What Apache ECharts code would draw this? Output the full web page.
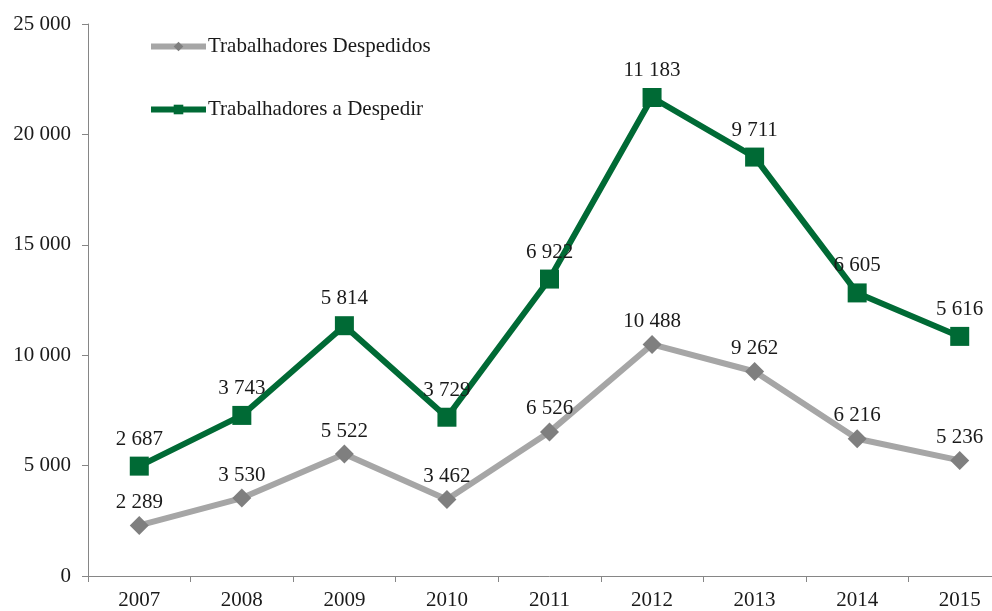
<!DOCTYPE html>
<html>
<head>
<meta charset="utf-8">
<script src="https://cdn.jsdelivr.net/npm/echarts@6/dist/echarts.min.js"></script>
<style>html,body{margin:0;padding:0;background:#fff;overflow:hidden;width:992px;height:611px;}#c{width:1011px;height:611px;}</style>
</head>
<body>
<div id="c"></div>
<script>
var years = ['2007','2008','2009','2010','2011','2012','2013','2014','2015'];
var despedidos = [2289, 3530, 5522, 3462, 6526, 10488, 9262, 6216, 5236];
var aDespedir = [2687, 3743, 5814, 3729, 6922, 11183, 9711, 6605, 5616];
var seriesNames = ['Trabalhadores Despedidos', 'Trabalhadores a Despedir'];

function fmt(v) {
  return String(v).replace(/\B(?=(\d{3})+(?!\d))/g, ' ');
}
var FONT = 'Liberation Serif';
var chart = echarts.init(document.getElementById('c'), null, {renderer: 'canvas'});
chart.setOption({
  animation: false,
  backgroundColor: '#fff',
  textStyle: {fontFamily: FONT},
  grid: {left: 88, right: 0, top: 24, bottom: 35},
  legend: {
    orient: 'vertical',
    left: 148,
    top: 36,
    padding: 0,
    itemWidth: 55,
    itemHeight: 12,
    itemGap: 42,
    lineStyle: {width: 6},
    textStyle: {fontFamily: FONT, fontSize: 21, color: '#1a1a1a', padding: [0, 0, 0, -3]},
    data: seriesNames
  },
  xAxis: {
    type: 'category',
    data: years,
    boundaryGap: true,
    axisLine: {lineStyle: {color: '#868686', width: 1}},
    axisTick: {show: true, length: 6, lineStyle: {color: '#868686'}},
    axisLabel: {fontFamily: FONT, fontSize: 21, color: '#1a1a1a', margin: 14}
  },
  yAxis: {
    type: 'value',
    min: 0, max: 25000, interval: 5000,
    splitLine: {show: false},
    axisLine: {show: true, lineStyle: {color: '#868686', width: 1}},
    axisTick: {show: true, length: 6, lineStyle: {color: '#868686'}},
    axisLabel: {fontFamily: FONT, fontSize: 21, color: '#1a1a1a', margin: 17, formatter: fmt}
  },
  series: [
    {
      name: seriesNames[0],
      type: 'line',
      stack: 'total',
      data: despedidos,
      symbol: 'diamond',
      symbolSize: 19,
      lineStyle: {color: '#a6a6a6', width: 6},
      itemStyle: {color: '#7f7f7f'},
      label: {show: true, position: 'top', distance: 3, fontFamily: FONT, fontSize: 21, color: '#1a1a1a',
        formatter: function (p) { return fmt(p.value); }}
    },
    {
      name: seriesNames[1],
      type: 'line',
      stack: 'total',
      data: aDespedir,
      symbol: 'rect',
      symbolSize: 19,
      lineStyle: {color: '#006a35', width: 6},
      itemStyle: {color: '#006a35'},
      label: {show: true, position: 'top', distance: 7, fontFamily: FONT, fontSize: 21, color: '#1a1a1a',
        formatter: function (p) { return fmt(p.value); }}
    }
  ]
});
</script>
</body>
</html>
